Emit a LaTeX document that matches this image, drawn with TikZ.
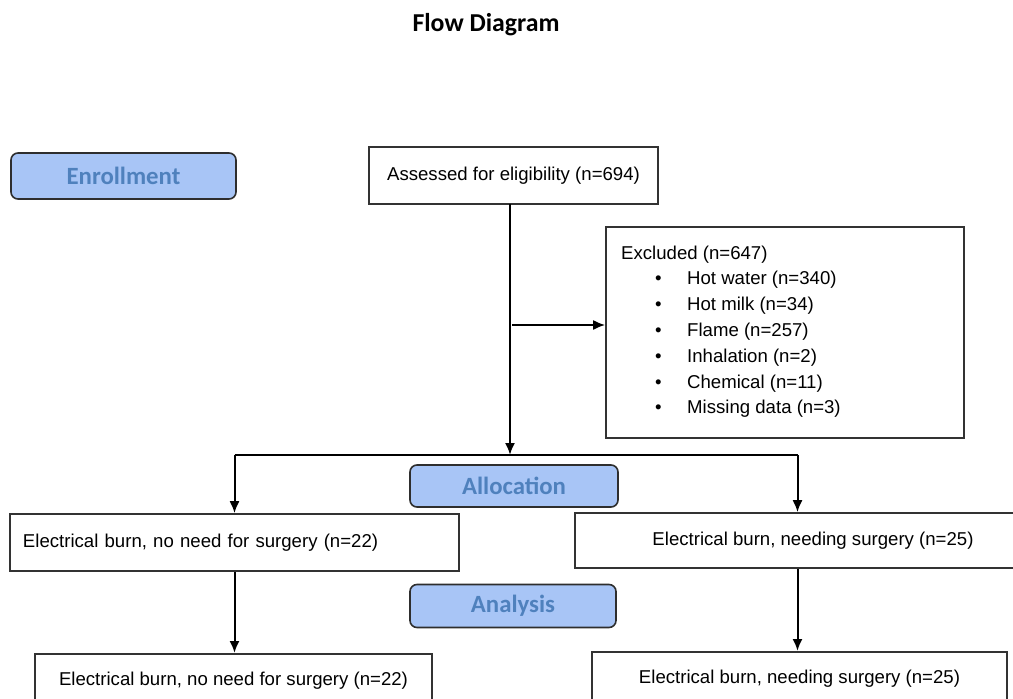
\documentclass[tikz,border=0pt]{standalone}
\usepackage{fontspec}
\setmainfont{Liberation Sans}
\newfontfamily\calfont{Carlito}
\usetikzlibrary{arrows.meta}
\definecolor{phasefill}{HTML}{A8C5F6}
\definecolor{phasetext}{HTML}{4F81BD}
\definecolor{phaseline}{HTML}{2E2E2E}
\begin{document}
\begin{tikzpicture}[x=1pt,y=-1pt,
  box/.style={draw=black!80, line width=1.6pt, rectangle, inner sep=0pt, font=\fontsize{18.6}{22}\selectfont},
  phase/.style={draw=phaseline, line width=1.6pt, rounded corners=7pt, fill=phasefill, inner sep=0pt,
      text=phasetext, font=\calfont\bfseries\fontsize{24.8}{28}\selectfont},
  conn/.style={line width=2pt, black},
  arr/.style={conn, -{Latex[length=12pt,width=10pt]}},
]
\useasboundingbox (0,0) rectangle (1013,699);
\clip (0,0) rectangle (1013,699);

\node (title) at (486,25) {\calfont\bfseries\fontsize{25.8}{30}\selectfont Flow Diagram};

\node[phase, minimum width=225pt, minimum height=46pt] (enroll) at (123.5,176) {Enrollment};
\node[box, minimum width=289pt, minimum height=57pt] (assess) at (513.5,175.5) {Assessed for eligibility (n=694)};

\node[box, minimum width=358pt, minimum height=211pt] (excl) at (785,332.5) {};
\node[anchor=north west, inner sep=0pt, align=left, font=\fontsize{18.6}{25.8}\selectfont] (excltxt) at (621,245.5)
 {Excluded (n=647)\\
  \makebox[66pt][l]{\hspace{34pt}\textbullet}Hot water (n=340)\\
  \makebox[66pt][l]{\hspace{34pt}\textbullet}Hot milk (n=34)\\
  \makebox[66pt][l]{\hspace{34pt}\textbullet}Flame (n=257)\\
  \makebox[66pt][l]{\hspace{34pt}\textbullet}Inhalation (n=2)\\
  \makebox[66pt][l]{\hspace{34pt}\textbullet}Chemical (n=11)\\
  \makebox[66pt][l]{\hspace{34pt}\textbullet}Missing data (n=3)};

\node[phase, minimum width=208pt, minimum height=42pt] (alloc) at (514,486) {Allocation};
\node[phase, minimum width=206pt, minimum height=43pt] (anal) at (513,606) {Analysis};

\node[box, minimum width=449pt, minimum height=57pt, text width=423pt, align=left] (midl) at (234.5,542.5) {Electrical burn, no need for surgery (n=22)};
\node[box, minimum width=445pt, minimum height=55pt] (midr) at (797.5,540.5) {\hspace{31pt}Electrical burn, needing surgery (n=25)};

\node[box, minimum width=397pt, minimum height=60pt, anchor=north] (botl) at (233.5,653) {\raisebox{10pt}{Electrical burn, no need for surgery (n=22)}};
\node[box, minimum width=415pt, minimum height=60pt, anchor=north] (botr) at (799.5,651) {\raisebox{10pt}{Electrical burn, needing surgery (n=25)}};

% connectors
\coordinate (stem) at (510,204);
\coordinate (split) at (510,455);
\coordinate (jl) at (midl.north |- split);
\coordinate (jr) at (midr.north |- split);
\coordinate (excfrom) at (512,325);
\draw[arr] (stem) -- (split);
\draw[arr] (excfrom) -- (excfrom -| excl.west);
\draw[conn] (jl) -- (jr);
\draw[arr] (jl) -- (midl.north);
\draw[arr] (jr) -- (midr.north);
\draw[arr] (midl.south) -- (midl.south |- botl.north);
\draw[arr] (midr.south) -- (midr.south |- botr.north);
\end{tikzpicture}
\end{document}
